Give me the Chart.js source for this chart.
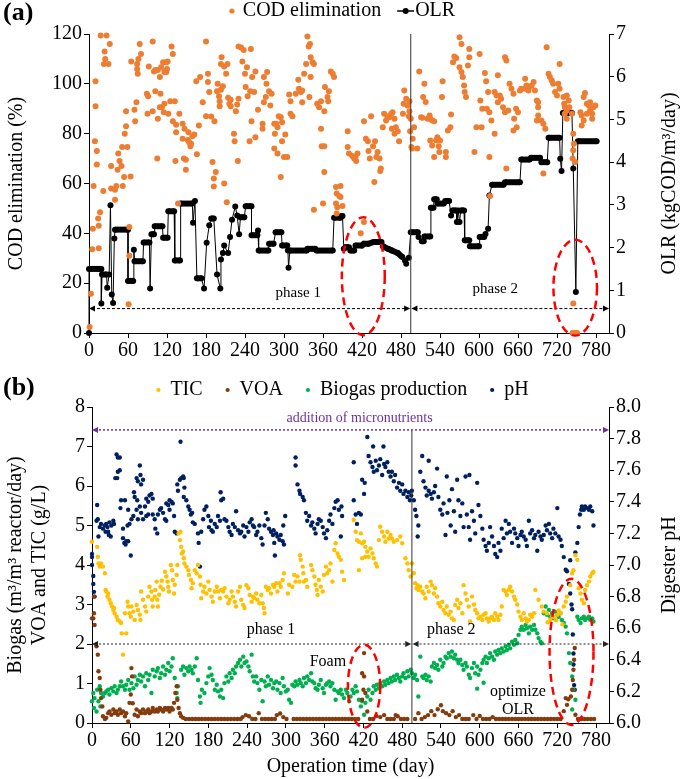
<!DOCTYPE html>
<html><head><meta charset="utf-8">
<script src="https://cdn.jsdelivr.net/npm/chart.js@4.4.1/dist/chart.umd.min.js"></script>
<style>
html,body{margin:0;padding:0;background:#fff;}
#wrap{position:relative;width:685px;height:779px;overflow:hidden;background:#fff;}
#ca{position:absolute;left:0;top:0;width:685px;height:365px;}
#cb{position:absolute;left:0;top:357px;width:685px;height:422px;}
</style></head><body>
<div id="wrap"><canvas id="ca" width="685" height="365"></canvas><canvas id="cb" width="685" height="422"></canvas></div>
<script>
// ---------- tick labels ----------
const xTicks = [0,60,120,180,240,300,360,420,480,540,600,660,720,780];
const codTicks = [0,20,40,60,80,100,120];
const olrTicks = [0,1,2,3,4,5,6,7];
const leftBTicks = [0,1,2,3,4,5,6,7,8];
const phTicks = [6.0,6.2,6.4,6.6,6.8,7.0,7.2,7.4,7.6,7.8,8.0];

// ---------- panel (a): COD elimination (%) [day, %] ----------
const codData = [[1,2.4],[3,15.8],[5,33.6],[6,41.8],[7,59],[9,77],[10,101],[10,91],[12,73],[12,67.6],[15,34],[15,43],[14,46],[17,48.5],[22,57],[18,119.4],[27,119.4],[24,113],[25,110],[23,108],[30,108],[32,116],[34,58],[34,67],[40,57.5],[42,59],[40,53.5],[44,65.5],[47,69],[45,72],[50,67],[51,74.6],[54,62.6],[52,59],[55,80],[57,83],[57,89],[59,74.6],[64,62.8],[62,42.5],[62,31],[61,11.5],[70,89.6],[71,85],[73,92.6],[65,109],[75,104],[74,106],[74,108],[76,110],[78,116],[80,112],[89,96],[91,95],[90,88],[92,107],[98,117],[98,89],[100,105],[102,97],[102,105.6],[105,70],[106,86],[106,105.6],[109,90.6],[109,102.7],[110,96],[111,106.7],[114,108.7],[112,90.6],[115,88.6],[116,104.7],[116,92],[119,108.7],[119,104.7],[120,106],[121,109],[122,88],[127,115],[129,112],[125,93],[129,85],[132,93],[133,69],[134,80.6],[134,83.6],[137,52],[139,88],[144,84],[144,78],[147,82],[146,70],[149,69.5],[149,65.5],[152,77.5],[154,76.6],[156,75],[157,76],[153,80.6],[159,79],[162,79.7],[169,83.3],[166,71.7],[165,101],[171,102.7],[175,92.6],[180,117],[183,104],[185,96.7],[183,100.7],[180,87],[188,86.9],[190,68.6],[193,85],[195,64.6],[192,58.8],[192,62],[197,97],[198,100],[200,95],[201,93],[203,97.6],[206,99],[201,91],[204,110.7],[203,108],[208,107],[211,104],[213,108],[208,60],[212,52.5],[214,94.4],[216,92],[218,93.6],[218,91],[223,80],[224,77],[226,89],[228,91.7],[229,69],[230,94],[230,115],[234,114.6],[236,109],[238,113.6],[240,104],[241,98.7],[243,106.7],[244,95],[247,77],[248,97],
[249,114],[251,102.7],[256,105],[254,96.7],[250,85],[256,78.6],[267,82],[260,89.6],[269,92.6],[267,84],[272,94.7],[269,102.7],[274,104.7],[273,100],[277,97],[281,96],[279,91.3],[285,84],[288,84],[286,80],[290,82.6],[295,86.6],[297,84.6],[292,87],[285,74],[290,72],[300,70.6],[305,70.6],[295,62.6],[297,77],[302,79.7],[308,95.7],[310,93],[310,88],[313,87],[318,96],[323,98],[326,96.7],[328,97.3],[322,101.6],[328,92.6],[331,104],[334,108],[338,115],[336,119],[340,116],[341,110.7],[344,108.7],[346,108],[341,102.7],[339,94.7],[351,92],[354,90.6],[357,93],[362,89],[367,94.7],[369,97],[368,93],[372,105],[375,104],[377,102.7],[363,98.7],[357,82],[358,75],[362,75],[362,64.6],[360,52],[346,49.5],[380,58.6],[387,59],[381,56],[385,55],[387,54.6],[380,52],[382,50.5],[381,48],[390,51],[398,81],[398,74.6],[400,72],[405,71],[408,70],[411,69],[413,72],[410,70.6],[423,85],[434,87],[429,77],[426,78],[430,73],[432,70],[437,75],[440,77],[444,72.6],[442,70.6],[447,70],[449,66],[439,60.6],[448,65],[423,44.5],[418,40],[452,82.6],[457,85.3],[454,88],[459,87],[462,86.6],[465,88],[467,88.6],[470,86],[472,82.6],[475,81],[477,77],[466,82],[470,80],[483,88],[484,92],[485,97.3],[488,94],[490,91.3],[493,89],[494,81],[496,74.6],[492,87],
[493,93],[495,86],[500,82.6],[498,78],[497,74],[505,74],[508,105],[516,100],[514,94.7],[518,92.7],[521,86],[511,86.6],[513,86.4],[524,87.3],[525,86],[528,85.3],[531,85],[525,77.3],[528,75.3],[534,77.3],[536,78.6],[538,75],[540,77.3],[531,70.6],[539,72.6],[544,101],[543,94.7],[549,72.6],[549,70.6],[552,81.3],[556,82.6],[557,87.7],[560,108.7],[562,111],[565,110.4],[570,118.7],[573,116],[570,106.7],[573,104.7],[575,102.7],[577,99.3],[578,96.7],[580,94.7],[583,107.4],[585,110.7],[585,114],[593,72.6],[596,82.6],[601,112],[602,93.3],[604,82.6],[605,90],[609,104.3],[611,101],[614,96.7],[612,90],[616,88.6],[619,85.3],[616,70.6],[617,55],[624,80],[624,96.7],[627,95.3],[629,103.4],[629,92.6],[632,95.3],[634,94],[637,90.6],[640,88.6],[640,110.7],[642,109.4],[645,89.3],[647,100],[650,98],[653,96],[654,86],[657,90],[658,82.6],[642,66],[653,81.3],[660,88.6],[663,97.3],[665,98],[671,98],[671,102],[673,99.3],[676,97.3],[678,98.7],[681,99.3],[684,100.7],[686,97.3],[689,93.3],[691,92.6],[689,85.3],[691,87.3],[696,85.3],[699,84],[702,82],[704,114.7],[707,104],[709,102.7],[712,101.3],[714,100],[717,96.7],[720,95.3],[724,108],[722,100],[724,98],[699,64],[691,90.6],[730,94.7],[732,90.6],[735,89.3],[738,93.3],[732,88],[731,92],[735,95.3],[735,86],[739,90.6],[743,88],[745,80],[746,76],[745,73.3],[744,70],[748,68.6],[745,11.8],[744,0],[748,0],[751,0],[756,88.6],[758,83.3],[761,94.7],[763,96.3],[766,92],[769,91.3],[771,89.3],[774,88],[776,90.6],[779,91.3],[774,86],[766,88],[761,85.3],[771,92.6],[758,87.3]];

// ---------- panel (a): OLR (kgCOD/m3/day) [day, OLR] ----------
const olrData = [[0,0],[0,1.5],[19,1.5],[19,0.69],[20,1.37],[27,1.37],[28,1.06],[31,1.37],[33,2.99],[35,0.90],[37,0.70],[39,2.21],[40,2.42],[60,2.42],[60,1.22],[68,1.22],[69,1.95],[70,1.68],[83,1.68],[84,2.12],[93,2.12],[94,1.04],[96,2.31],[100,2.31],[101,2.50],[113,2.50],[114,2.23],[121,2.23],[122,2.85],[131,2.85],[132,1.70],[140,1.70],[141,3.03],[159,3.03],[160,2.58],[163,3.09],[166,1.28],[173,1.28],[177,1.04],[181,2.11],[185,2.52],[188,2.68],[192,2.68],[197,1.37],[202,1.04],[203,1.72],[206,1.87],[208,2.05],[214,1.87],[217,2.25],[220,2.65],[225,2.96],[228,2.75],[231,2.31],[233,2.71],[239,2.71],[241,2.97],[250,2.97],[250,2.29],[259,2.29],[260,2.40],[261,1.93],[276,1.93],[277,2.09],[284,2.09],[287,2.36],[296,2.36],[297,2.05],[305,2.05],[306,1.93],[307,1.53],[309,1.93],[335,1.93],[336,1.97],[348,1.97],[350,1.93],[375,1.93],[377,2.70],[387,2.70],[388,2.74],[390,2.74],[392,1.97],[395,2.01],[400,2.01],[402,1.93],[408,1.93],[410,2.05],[420,2.05],[423,2.09],[430,2.09],[438,2.13],[450,2.13],[452,2.03],[460,1.97],[466,1.93],[475,1.87],[482,1.78],[486,1.70],[488,1.62],[492,1.76],[495,2.36],[506,2.36],[507,2.25],[512,2.15],[515,2.15],[516,2.26],[525,2.26],[526,2.93],[530,2.93],[531,3.13],[535,3.13],[536,3.03],[546,3.03],[548,3.09],[554,3.09],[557,2.75],[559,2.87],[565,2.87],[566,2.6],[568,2.87],[570,2.6],[572,2.87],[577,2.87],[578,2.17],[585,2.17],[586,2.03],[600,2.03],[601,2.25],[608,2.25],[610,2.32],[614,2.44],[616,3.22],[620,3.47],[638,3.47],[640,3.53],[663,3.53],[665,4.06],[678,4.06],[680,4.10],[694,4.10],[696,4.0],[705,4.0],[707,4.57],[724,4.57],[725,4.08],[727,3.79],[729,5.15],[743,5.15],[745,3.85],[749,0.96],[752,4.49],[781,4.49]];

// ---------- panel (b): TIC (g/L) [day, value] ----------
const ticData = [[0,4.59],[8,4.46],[9,4.21],[10,4.04],[12,3.96],[14,4.04],[17,3.96],[20,3.79],[21,3.37],[22,3.33],[24,3.2],[25,3.28],[27,3.12],[29,3.03],[31,2.95],[33,2.86],[34,2.91],[35,2.78],[38,2.69],[40,2.61],[43,2.57],[45,2.53],[46,2.27],[53,2.27],[48,1.73],[51,2.78],[55,3.07],[56,2.95],[58,2.78],[60,2.69],[61,2.95],[64,2.82],[66,2.61],[69,2.99],[71,2.86],[74,2.74],[75,2.61],[76,3.33],[79,3.12],[82,2.95],[84,2.82],[87,3.2],[89,3.45],[92,3.33],[93,3.12],[94,2.95],[97,3.2],[98,3.37],[100,3.58],[101,3.12],[102,2.95],[104,3.25],[106,3.45],[108,3.6],[110,3.38],[113,3.83],[115,3.71],[117,3.58],[118,3.45],[119,3.33],[122,4.0],[124,3.87],[125,3.62],[127,3.28],[128,3.5],[131,3.75],[132,4.0],[134,4.8],[136,4.63],[137,4.84],[138,4.46],[139,4.29],[141,4.34],[142,4.17],[143,4.04],[146,3.96],[149,3.87],[150,3.75],[153,3.62],[154,3.41],[156,3.54],[159,3.87],[162,3.79],[164,4.0],[167,3.71],[168,3.5],[169,3.16],[172,3.33],[174,3.45],[177,3.28],[180,3.58],[182,3.37],[185,3.2],[187,3.07],[190,3.33],[193,3.45],[195,3.33],[198,3.16],[200,3.37],[203,3.33],[205,3.41],[208,3.2],[211,3.03],[213,3.12],[216,3.33],[218,3.2],[221,3.07],[223,2.95],[226,3.33],[229,3.45],[231,3.12],[234,2.99],[236,2.91],[239,3.49],[242,3.41],[244,3.24],[247,3.07],[249,3.2],
[251,3.16],[254,3.28],[256,3.12],[259,3.03],[262,3.24],[264,3.03],[266,2.91],[267,2.78],[269,3.45],[272,3.37],[274,3.41],[277,3.28],[280,3.5],[282,3.45],[285,3.54],[287,3.33],[290,3.54],[292,3.45],[295,3.62],[297,3.79],[303,3.28],[305,3.5],[310,3.45],[313,3.75],[315,3.58],[318,3.71],[321,3.58],[322,4.25],[323,4.13],[326,3.96],[327,3.79],[328,3.58],[331,3.62],[333,3.45],[339,4.0],[341,3.87],[344,3.71],[346,3.5],[348,3.37],[349,3.24],[351,3.62],[354,3.45],[357,3.33],[359,3.75],[362,3.96],[364,3.79],[367,3.87],[369,4.04],[372,3.58],[375,4.38],[377,4.55],[380,4.29],[382,4.21],[385,4.13],[387,3.83],[390,3.62],[405,5.14],[408,4.84],[410,4.63],[413,4.59],[416,4.8],[418,4.55],[421,4.59],[423,4.46],[426,4.34],[428,4.21],[431,4.42],[434,4.29],[436,4.17],[439,4.04],[441,3.96],[413,3.87],[418,4.17],[423,4.21],[444,4.63],[446,4.97],[449,4.84],[452,4.72],[454,4.59],[457,4.84],[459,4.67],[462,4.76],[464,4.67],[467,4.59],[472,4.63],[477,4.72],[480,4.55],[485,4.17],[488,4.04],[490,3.87],[493,3.71],
[495,4.04],[498,3.79],[500,3.54],[502,3.41],[504,3.49],[505,3.37],[508,3.45],[511,3.33],[513,3.28],[516,3.16],[518,3.45],[521,3.33],[524,3.58],[526,3.49],[529,3.28],[531,3.41],[534,3.2],[536,3.03],[539,2.95],[542,3.07],[544,2.86],[547,2.78],[549,2.95],[552,2.74],[555,2.82],[557,2.65],[560,2.61],[562,2.99],[565,3.12],[567,2.91],[570,3.03],[573,2.78],[575,3.49],[578,3.28],[580,3.12],[583,2.95],[585,2.57],[588,3.2],[591,3.0],[593,2.86],[596,2.78],[598,2.65],[601,2.69],[604,2.61],[606,2.74],[609,2.78],[611,2.65],[614,2.57],[616,2.65],[619,2.69],[622,2.61],[624,2.78],[627,2.69],[629,2.61],[632,2.74],[634,2.95],[637,3.37],[640,3.33],[642,3.24],[645,3.37],[647,3.45],[650,3.33],[653,3.2],[655,3.12],[658,3.0],[660,2.82],[663,2.69],[665,2.61],[668,2.78],[671,2.65],[673,2.57],[676,2.61],[678,2.74],[681,2.69],[684,2.78],[686,3.37],[691,3.12],[696,2.95],[699,2.82],[704,2.78],[705,2.55],[709,2.61],[712,2.7],[714,2.69],[718,2.6],[720,2.74],[722,2.85],[725,2.78],[728,2.5],[730,2.95],[733,3.07],[735,3.2],[740,3.49],[743,3.79],[745,3.87],[748,4.25],[751,4.13],[753,3.41],[756,3.28],[758,3.12],[761,3.03],[763,3.37],[766,3.49],[769,3.58],[771,3.71],[774,3.79],[776,3.83]];

// ---------- panel (b): VOA (g/L) [day, value] ----------
const voaData = [[0,2.65],[2,2.65],[3,3.2],[3,2.78],[4,2.48],[7,1.94],[9,1.73],[10,1.31],[12,1.14],[13,0.84],[14,0.63],[16,0.42],[17,0.17],[20,0.1],[22,0.13],[25,0.25],[27,0.29],[30,0.21],[33,0.34],[35,0.25],[38,0.29],[40,0.21],[43,0.34],[45,0.25],[48,0.29],[51,0.17],[53,0.25],[56,0.04],[58,0.51],[60,0.72],[61,1.39],[62,1.18],[63,0.5],[66,0.21],[69,0.34],[71,0.17],[74,0.29],[76,0.25],[79,0.34],[82,0.25],[84,0.29],[87,0.34],[89,0.25],[92,0.29],[94,0.38],[97,0.29],[100,0.34],[102,0.29],[105,0.38],[107,0.34],[110,0.29],[113,0.38],[115,0.34],[118,0.38],[120,0.29],[123,0.38],[125,0.34],[127,0.51],[129,0.76],[131,0.93],[132,0.59],[134,0.38],[136,0.25],[138,0.17],[141,0.13],
[145,0.1],[150,0.1],[155,0.1],[160,0.1],[165,0.1],[170,0.1],[175,0.1],[180,0.1],[185,0.1],[190,0.1],[195,0.1],[200,0.1],[205,0.1],[210,0.1],[215,0.1],[220,0.1],[225,0.1],[230,0.1],[233,0.15],[238,0.2],[243,0.17],[248,0.1],[253,0.1],[258,0.25],[263,0.1],[268,0.1],[273,0.1],[278,0.1],[283,0.1],[286,0.2],[291,0.24],[296,0.15],[301,0.1],[312,0.1],[317,0.1],[322,0.1],[327,0.1],[332,0.1],[337,0.1],[342,0.1],[347,0.1],[352,0.1],[357,0.1],[362,0.1],[367,0.1],[372,0.1],[377,0.1],[382,0.1],[387,0.1],[392,0.1],[397,0.1],[402,0.1],[407,0.1],[412,0.1],[418,1.26],[421,1.77],[421,1.18],[420,0.84],[423,0.76],[418,0.59],[426,0.29],[430,0.1],[435,0.1],[440,0.18],[446,0.15],[452,0.2],[457,0.1],[462,0.1],[467,0.1],[470,0.2],[473,0.17],[478,0.1],[483,0.1],[488,0.1],
[500,0.1],[505,0.25],[510,0.1],[515,0.15],[520,0.2],[525,0.3],[530,0.2],[535,0.35],[540,0.45],[543,0.3],[548,0.25],[553,0.2],[558,0.3],[563,0.15],[568,0.2],[573,0.1],[578,0.1],[583,0.1],[590,0.2],[595,0.1],[600,0.18],[605,0.1],[610,0.1],[615,0.1],[620,0.15],[625,0.1],[630,0.1],[635,0.1],[640,0.1],[645,0.1],[650,0.1],[655,0.1],[660,0.1],[665,0.1],[670,0.1],[675,0.1],[680,0.1],[685,0.1],[690,0.1],[695,0.1],[700,0.1],[705,0.1],[710,0.1],[715,0.1],[720,0.1],[725,0.1],[730,0.3],[733,0.63],[735,0.46],[737,0.6],[741,0.67],[743,0.84],[744,1.09],[745,1.35],[746,1.6],[747,1.9],[748,0.21],[752,0.1],[757,0.1],[762,0.1],[767,0.1],[772,0.1],[777,0.1]];

// ---------- panel (b): Biogas production (m3/m3 reactor/day) [day, value] ----------
const biogasData = [[0,0.55],[2,0.76],[3,0.38],[4,0.63],[7,0.29],[8,0.84],[10,0.55],[12,0.93],[13,0.42],[14,0.76],[17,0.67],[20,0.76],[22,0.8],[25,0.84],[27,0.72],[30,0.88],[33,0.8],[35,0.93],[38,0.76],[40,0.84],[43,0.93],[45,1.05],[48,0.93],[51,0.84],[53,0.97],[56,1.09],[58,0.84],[61,1.01],[64,0.88],[66,1.18],[69,0.97],[71,1.09],[74,1.22],[76,1.05],[79,1.18],[82,0.93],[84,1.26],[87,1.09],[89,1.22],[92,0.76],[94,1.35],[97,1.18],[100,1.31],[102,1.39],[105,1.14],[107,1.26],[110,1.43],[113,1.22],[115,1.35],[118,1.52],[120,1.31],[123,1.43],[125,1.64],[128,1.14],[131,0.76],[132,0.63],[133,0.93],[138,1.35],[141,1.43],[143,1.22],[146,1.39],[149,1.31],[151,1.43],[154,1.35],[156,1.26],[159,1.43],[162,1.64],[164,1.09],[167,0.67],[168,0.51],[170,0.84],[174,0.76],[177,1.01],[180,1.18],[182,1.39],[185,1.22],[187,1.09],[190,0.84],[193,0.97],[195,0.8],[198,0.67],[200,0.84],[203,0.63],[205,1.01],[208,1.18],[211,1.05],[213,1.26],[216,1.14],[218,1.35],[221,1.26],[223,1.43],[226,1.52],[229,1.6],[231,1.43],[234,1.68],[236,1.52],[239,1.56],[242,1.43],[244,1.31],[247,1.73],[249,1.18],
[251,1.05],[254,1.18],[256,1.01],[259,0.84],[262,1.09],[264,0.55],[267,1.05],[269,0.93],[272,1.18],[274,0.97],[277,1.09],[280,0.88],[282,1.01],[285,1.05],[287,0.84],[290,1.01],[292,0.76],[295,1.14],[297,0.93],[300,0.8],[303,0.84],[305,0.59],[308,0.51],[310,0.97],[313,0.93],[315,1.05],[318,0.97],[321,1.09],[323,1.01],[326,0.93],[328,1.14],[331,1.01],[333,1.18],[336,1.09],[339,1.26],[341,1.05],[344,1.01],[346,0.88],[349,0.84],[351,0.97],[354,1.09],[357,0.88],[359,0.76],[362,0.97],[364,1.01],[367,1.05],[369,0.93],[372,1.01],[375,0.84],[377,0.59],[380,0.8],[382,0.76],[385,0.84],[387,0.72],[390,0.63],[393,0.84],[395,0.76],[398,0.55],[400,0.67],[403,0.84],[405,0.76],[408,0.93],[410,0.8],[413,0.59],[416,0.42],[418,0.55],[421,0.21],[423,0.51],[426,0.67],[428,0.84],[431,0.59],[434,0.76],[436,0.93],[439,0.84],[441,0.97],[444,0.88],[446,1.01],[449,0.93],[452,1.05],[454,0.97],[457,1.09],[459,1.01],[462,1.14],[464,1.05],[467,1.18],[469,1.09],[472,1.22],[475,1.14],[477,1.05],[480,1.18],[482,1.26],[485,1.14],[488,1.31],[490,1.18],[493,1.35],
[495,1.26],[498,1.14],[500,1.22],[503,1.09],[505,0.67],[508,1.68],[511,1.18],[513,1.14],[516,1.22],[518,1.09],[521,1.18],[524,1.05],[526,1.43],[529,1.52],[531,1.39],[534,1.47],[536,1.35],[539,1.6],[542,1.43],[544,1.52],[547,1.68],[549,1.64],[552,1.77],[555,1.68],[557,1.81],[560,1.64],[562,1.73],[565,1.6],[567,1.52],[570,1.6],[573,1.47],[575,1.35],[578,1.52],[580,1.43],[583,1.22],[585,1.14],[588,1.39],[591,1.52],[593,1.26],[596,0.87],[596,1.43],[598,1.22],[601,1.35],[604,1.52],[606,1.02],[606,1.6],[609,1.68],[611,1.52],[614,1.64],[616,1.77],[619,1.68],[622,1.6],[624,1.81],[627,1.73],[629,1.85],[632,1.77],[634,1.89],[637,1.81],[640,1.94],[642,1.85],[645,1.98],[647,1.89],[650,2.06],[653,1.98],[655,2.1],[658,2.02],[660,2.23],[663,2.36],[665,2.44],[668,2.36],[671,2.48],[673,2.4],[676,2.27],[678,2.44],[681,2.36],[684,2.48],[686,2.36],[689,2.27],[691,2.15],[694,2.06],[696,2.02],[699,2.78],[702,2.95],[704,2.74],[707,2.86],[709,2.69],[712,2.78],[714,2.65],[717,2.82],[720,2.74],[722,2.69],[725,2.78],[727,2.61],[730,2.53],[733,2.44],[735,2.27],[738,1.77],[740,1.52],[743,1.18],[745,0.84],[743,0.34],[748,0.59],[751,2.69],[753,2.61],[756,2.53],[758,2.65],[761,2.69],[763,2.61],[766,2.65],[769,2.69],[771,2.61],[774,2.65],[776,2.57]];

// ---------- panel (b): digester pH [day, pH] ----------
const phData = [[0,7.07],[0,7.05],[0,7.0],[2,6.93],[2,6.88],[3,6.83],[4,6.8],[8,7.38],[7,7.28],[9,7.29],[10,7.18],[12,7.24],[14,7.26],[17,7.23],[20,7.25],[21,7.21],[22,7.26],[24,7.24],[25,7.21],[26,7.19],[27,7.27],[29,7.18],[30,7.25],[33,7.28],[34,7.26],[36,7.55],[39,7.55],[38,7.7],[40,7.68],[43,7.68],[40,7.59],[43,7.6],[44,7.36],[45,7.41],[48,7.23],[48,7.17],[50,7.14],[52,7.13],[53,7.15],[56,7.15],[60,7.06],[51,7.41],[55,7.25],[56,7.35],[58,7.26],[61,7.29],[64,7.31],[65,7.46],[66,7.43],[69,7.55],[71,7.53],[74,7.63],[75,7.57],[76,7.51],[79,7.54],[69,7.35],[70,7.41],[71,7.29],[74,7.37],[76,7.33],[79,7.29],[82,7.37],[84,7.42],[87,7.4],[89,7.44],[92,7.45],[84,7.31],[87,7.32],[94,7.42],[94,7.32],[97,7.29],[98,7.23],[101,7.2],[102,7.32],[105,7.35],[107,7.36],[110,7.33],[113,7.29],[115,7.39],[118,7.38],[120,7.41],[123,7.4],[125,7.39],[115,7.28],[120,7.35],[127,7.31],[128,7.21],[131,7.2],[132,7.51],[133,7.47],[136,7.54],[137,7.78],[138,7.55],[141,7.56],[142,7.55],[143,7.49],[142,7.43],[146,7.41],[149,7.37],[151,7.35],[153,7.32],[155,7.33],[156,7.27],[159,7.26],[164,7.2],[165,7.14],[167,6.99],[169,7.21],[172,7.29],[174,7.35],[177,7.37],[180,7.31],[181,7.24],[184,7.28],[185,7.22],[187,7.21],[190,7.26],[193,7.24],[195,7.31],[198,7.28],[199,7.46],[200,7.41],[203,7.42],[205,7.29],[208,7.28],[211,7.24],[213,7.21],[216,7.19],[218,7.26],[221,7.24],[223,7.34],[226,7.22],[229,7.2],[231,7.21],[234,7.25],[236,7.18],[239,7.24],[242,7.21],[244,7.27],[247,7.29],[249,7.25],
[251,7.24],[254,7.19],[256,7.21],[259,7.25],[262,7.17],[264,7.13],[267,7.25],[269,7.33],[272,7.29],[274,7.23],[277,7.21],[280,7.19],[281,7.22],[282,7.14],[283,7.06],[285,7.2],[287,7.18],[290,7.16],[292,7.19],[295,7.15],[297,7.13],[299,7.31],[296,7.25],[315,7.68],[315,7.63],[318,7.51],[321,7.47],[322,7.45],[326,7.43],[328,7.41],[331,7.33],[333,7.28],[336,7.31],[339,7.25],[341,7.27],[344,7.23],[346,7.2],[349,7.26],[351,7.29],[354,7.28],[357,7.24],[359,7.2],[362,7.17],[364,7.22],[367,7.28],[369,7.32],[372,7.26],[375,7.36],[377,7.4],[380,7.41],[382,7.35],[385,7.18],[386,7.37],[387,7.31],[405,7.65],[405,7.41],[408,7.32],[410,7.26],[413,7.33],[416,7.32],[418,7.54],[421,7.45],[422,7.52],[426,7.81],[428,7.69],[431,7.65],[434,7.62],[435,7.75],[436,7.59],[439,7.66],[441,7.6],[444,7.63],[446,7.67],[451,7.75],[449,7.57],[452,7.64],[454,7.62],[457,7.65],[459,7.59],[462,7.56],[464,7.59],[467,7.53],[469,7.57],[472,7.49],[475,7.52],[477,7.47],[480,7.51],[482,7.45],[485,7.47],[488,7.43],[490,7.46],[492,7.41],[494,7.44],
[495,7.47],[498,7.41],[500,7.35],[502,7.31],[504,7.18],[505,7.25],[508,7.59],[511,7.69],[513,7.53],[516,7.49],[518,7.44],[521,7.66],[521,7.47],[524,7.45],[526,7.42],[529,7.46],[531,7.5],[534,7.61],[536,7.43],[539,7.35],[542,7.32],[544,7.39],[547,7.19],[549,7.56],[550,7.33],[553,7.41],[555,7.25],[557,7.48],[560,7.34],[562,7.21],[565,7.54],[567,7.41],[570,7.31],[573,7.39],[575,7.24],[578,7.56],[580,7.32],[583,7.24],[584,7.57],[585,7.16],[588,7.34],[591,7.28],[593,7.2],[596,7.52],[598,7.38],[601,7.31],[604,7.23],[606,7.16],[609,7.12],[611,7.09],[614,7.14],[616,7.24],[619,7.18],[622,7.12],[624,7.07],[627,7.05],[629,7.14],[632,7.09],[634,7.23],[637,7.17],[640,7.28],[642,7.2],[645,7.26],[647,7.21],[650,7.14],[653,7.23],[655,7.2],[658,7.17],[660,7.12],[663,7.19],[665,7.21],[668,7.18],[671,7.16],[673,7.12],[676,7.28],[678,7.2],[681,7.22],[684,7.17],[686,7.19],[689,7.09],[691,7.21],[694,7.18],[696,7.16],[699,7.19],[702,7.25],[704,7.22],[707,7.26],[709,7.2],[712,7.17],[714,7.23],[717,7.2],[720,7.36],[722,7.18],[725,7.16],[727,7.12],[730,7.05],[733,6.97],[735,6.96],[738,6.88],[740,6.82],[742,6.75],[743,6.72],[744,6.56],[745,6.44],[745,6.37],[746,6.24],[747,6.21],[740,7.03],[748,7.08],[751,7.14],[753,7.24],[755,7.32],[757,7.35],[758,7.37],[761,7.35],[763,7.37],[766,7.36],[769,7.35],[771,7.37],[774,7.34],[776,7.25]];

// ---------- styling ----------
const FONT = "'Liberation Serif','Times New Roman',Times,serif";
const ORANGE = '#ED7D31', TICC = '#FFC000', VOAC = '#843C0C', BIOC = '#00B050', PHC = '#002060';
Chart.defaults.font.family = FONT;
Chart.defaults.font.size = 20;
Chart.defaults.color = '#000';
const toXY = a => a.map(p => ({x: p[0], y: p[1]}));

function mkScale(pos, min, max, tickVals, fitSize, fmt, title) {
  const s = {
    type: 'linear', position: pos, min, max,
    afterBuildTicks: sc => { sc.ticks = tickVals.map(v => ({value: v})); },
    afterFit: sc => { if (pos === 'bottom') sc.height = fitSize; else sc.width = fitSize; },
    ticks: { color: '#000', font: {family: FONT, size: 20}, padding: pos === 'bottom' ? 1 : 2,
             autoSkip: false, maxRotation: 0, callback: fmt || (v => String(v)) },
    grid: { display: true, drawOnChartArea: false, drawTicks: true, tickLength: 5, color: '#000', tickColor: '#000' },
    border: { display: true, color: '#000', width: 1 }
  };
  if (title) s.title = title;
  return s;
}
function fixLegend(H) {
  return { id: 'fixLegend', beforeLayout(chart) {
    const lg = chart.legend;
    if (lg && !lg.__fixed) { const f = lg.fit; lg.fit = function () { f.call(this); this.height = H; }; lg.__fixed = true; }
  }};
}
function dline(ctx, x0, y0, x1, y1, color, w, dash) {
  ctx.save(); ctx.strokeStyle = color; ctx.lineWidth = w; ctx.setLineDash(dash || []);
  ctx.beginPath(); ctx.moveTo(x0, y0); ctx.lineTo(x1, y1); ctx.stroke(); ctx.restore();
}
function head(ctx, x, y, dir, color) {
  ctx.save(); ctx.fillStyle = color; ctx.beginPath();
  ctx.moveTo(x, y); ctx.lineTo(x - dir * 6, y - 3); ctx.lineTo(x - dir * 6, y + 3); ctx.closePath(); ctx.fill(); ctx.restore();
}
function arrow(ctx, xa, xb, y, color, w, dash) {
  dline(ctx, xa + 3, y, xb - 3, y, color, w, dash);
  head(ctx, xa, y, -1, color); head(ctx, xb, y, 1, color);
}
function ell(ctx, cx, cy, rx, ry) {
  ctx.save(); ctx.strokeStyle = '#FF0000'; ctx.lineWidth = 2.5; ctx.setLineDash([8, 5]);
  ctx.beginPath(); ctx.ellipse(cx, cy, rx, ry, 0, 0, Math.PI * 2); ctx.stroke(); ctx.restore();
}
function txt(ctx, s, x, y, size, color, opts) {
  ctx.save(); ctx.fillStyle = color || '#000';
  ctx.font = (opts && opts.bold ? 'bold ' : '') + size + 'px ' + FONT;
  ctx.textAlign = (opts && opts.align) || 'center'; ctx.textBaseline = 'middle';
  if (opts && opts.rot) { ctx.translate(x, y); ctx.rotate(opts.rot); ctx.fillText(s, 0, 0); }
  else ctx.fillText(s, x, y);
  ctx.restore();
}
function imgMarker(w, h, draw) {
  const c = document.createElement('canvas'); c.width = w; c.height = h;
  draw(c.getContext('2d')); return c;
}
const codMarker = imgMarker(31, 10, g => { g.fillStyle = ORANGE; g.beginPath(); g.arc(26, 5, 2.6, 0, Math.PI * 2); g.fill(); });
const olrMarker = imgMarker(41, 10, g => {
  g.strokeStyle = '#000'; g.lineWidth = 1.5; g.beginPath(); g.moveTo(24, 5); g.lineTo(41, 5); g.stroke();
  g.fillStyle = '#000'; g.beginPath(); g.arc(32.5, 5, 3, 0, Math.PI * 2); g.fill();
});

const noInteract = { events: [], animation: false, responsive: false, devicePixelRatio: 1 };

// ---------- chart (a) ----------
const annA = { id: 'annA',
  afterDatasetsDraw(chart) {
    const {ctx, scales: {x, y}} = chart;
    const X = v => x.getPixelForValue(v), Y = v => y.getPixelForValue(v);
    dline(ctx, X(495), Y(120), X(495), Y(0), '#333', 1);
    arrow(ctx, X(0), X(494), Y(9.8), '#000', 1, [3, 2]);
    arrow(ctx, X(496), X(800), Y(9.8), '#000', 1, [3, 2]);
    txt(ctx, 'phase 1', X(322), Y(16), 15);
    txt(ctx, 'phase 2', X(625), Y(17.8), 15);
    ell(ctx, X(422), Y(22.8), X(422) - X(389), Y(0) - Y(23.7));
    ell(ctx, X(748), Y(18.2), X(748) - X(714.5), Y(0) - Y(19.2));
  },
  afterDraw(chart) {
    const ctx = chart.ctx, a = chart.chartArea;
    txt(ctx, '(a)', 3, 13, 26, '#000', {bold: true, align: 'left'});
    txt(ctx, 'OLR (kgCOD/m³/day)', 670, (a.top + a.bottom) / 2, 20, '#000', {rot: -Math.PI / 2});
  }
};
new Chart(document.getElementById('ca'), {
  type: 'scatter',
  data: { datasets: [
    { label: 'COD elimination', data: toXY(codData), yAxisID: 'y', pointRadius: 3, pointHoverRadius: 3,
      backgroundColor: ORANGE, borderColor: ORANGE, pointBorderWidth: 0, showLine: false, clip: false, order: 1 },
    { type: 'line', label: 'OLR', data: toXY(olrData), yAxisID: 'y1', borderColor: '#000', backgroundColor: '#000',
      borderWidth: 1, pointRadius: 3, pointHoverRadius: 3, pointBorderWidth: 0, tension: 0, fill: false, clip: false, order: 2,
      segment: { borderWidth: c => {
        const dx = c.p1.parsed.x - c.p0.parsed.x, dy = Math.abs(c.p1.parsed.y - c.p0.parsed.y);
        return (dx >= 2 && dy / dx < 0.02) ? 6 : 1; } } }
  ]},
  options: Object.assign({}, noInteract, {
    layout: { padding: { top: 0, left: 0, right: 20, bottom: 0 } },
    scales: {
      x: mkScale('bottom', 0, 800, xTicks, 32),
      y: mkScale('left', 0, 120, codTicks, 89, null,
        { display: true, text: 'COD elimination (%)', font: {family: FONT, size: 20}, color: '#000', padding: {top: 5, bottom: 0} }),
      y1: mkScale('right', 0, 7, olrTicks, 56)
    },
    plugins: {
      tooltip: { enabled: false },
      legend: { display: true, position: 'top', align: 'center',
        labels: { usePointStyle: true, pointStyleWidth: 23, boxHeight: 10, padding: 1, color: '#000',
          font: {family: FONT, size: 20},
          generateLabels: () => [
            { text: 'COD elimination', pointStyle: codMarker, fillStyle: ORANGE, strokeStyle: ORANGE, lineWidth: 0, hidden: false, datasetIndex: 0, fontColor: '#000' },
            { text: 'OLR', pointStyle: olrMarker, fillStyle: '#000', strokeStyle: '#000', lineWidth: 0, hidden: false, datasetIndex: 1, fontColor: '#000' }
          ] } }
    }
  }),
  plugins: [fixLegend(34), annA]
});

// ---------- chart (b) ----------
const annB = { id: 'annB',
  afterDatasetsDraw(chart) {
    const {ctx, scales: {x, y}} = chart;
    const X = v => x.getPixelForValue(v), Y = v => y.getPixelForValue(v);
    dline(ctx, X(495), Y(7.42), X(495), Y(0), '#333', 1);
    arrow(ctx, X(0), X(800), Y(7.42), '#7030A0', 1.5, [2, 2]);
    txt(ctx, 'addition of micronutrients', X(414), Y(7.71), 14, '#7030A0');
    arrow(ctx, X(0), X(494), Y(2.0), '#222', 1, [2, 2]);
    arrow(ctx, X(496), X(800), Y(2.0), '#222', 1, [2, 2]);
    txt(ctx, 'phase 1', X(277), Y(2.35), 16);
    txt(ctx, 'phase 2', X(556), Y(2.36), 16);
    txt(ctx, 'Foam', X(365), Y(1.55), 16);
    txt(ctx, 'optimize', X(659), Y(0.79), 16);
    txt(ctx, 'OLR', X(659), Y(0.33), 16);
    ell(ctx, X(421), Y(0.93), X(421) - X(396), Y(0) - Y(1.05));
    ell(ctx, X(742), Y(1.8), X(742) - X(708), Y(0) - Y(1.85));
  },
  afterDraw(chart) {
    const ctx = chart.ctx, a = chart.chartArea;
    txt(ctx, '(b)', 3, 31, 26, '#000', {bold: true, align: 'left'});
    txt(ctx, 'Digester pH', 670, (a.top + a.bottom) / 2, 20, '#000', {rot: -Math.PI / 2});
  }
};
const dotLabel = (text, color, i) => ({ text, pointStyle: 'circle', fillStyle: color, strokeStyle: color, lineWidth: 0, hidden: false, datasetIndex: i, fontColor: '#000' });
new Chart(document.getElementById('cb'), {
  type: 'scatter',
  data: { datasets: [
    { label: 'TIC', data: toXY(ticData), yAxisID: 'y', pointRadius: 2.2, pointHoverRadius: 2.2, backgroundColor: TICC, borderColor: TICC, pointBorderWidth: 0, clip: false, order: 1 },
    { label: 'VOA', data: toXY(voaData), yAxisID: 'y', pointRadius: 2.2, pointHoverRadius: 2.2, backgroundColor: VOAC, borderColor: VOAC, pointBorderWidth: 0, clip: false, order: 2 },
    { label: 'Biogas production', data: toXY(biogasData), yAxisID: 'y', pointRadius: 2.2, pointHoverRadius: 2.2, backgroundColor: BIOC, borderColor: BIOC, pointBorderWidth: 0, clip: false, order: 3 },
    { label: 'pH', data: toXY(phData), yAxisID: 'y1', pointRadius: 2.2, pointHoverRadius: 2.2, backgroundColor: PHC, borderColor: PHC, pointBorderWidth: 0, clip: false, order: 4 }
  ]},
  options: Object.assign({}, noInteract, {
    layout: { padding: { top: 0, left: 0, right: 0, bottom: 0 } },
    scales: {
      x: mkScale('bottom', 0, 800, xTicks, 56, null,
        { display: true, text: 'Operation time (day)', font: {family: FONT, size: 20}, color: '#000', padding: {top: 0, bottom: 0} }),
      y: mkScale('left', 0, 8, leftBTicks, 92, null,
        { display: true, text: ['Biogas (m³/m³ reactor/day)', 'VOA and TIC (g/L)'], font: {family: FONT, size: 20}, color: '#000', padding: {top: 4, bottom: 0} }),
      y1: mkScale('right', 6, 8, phTicks, 76, v => Number(v).toFixed(1))
    },
    plugins: {
      tooltip: { enabled: false },
      legend: { display: true, position: 'top', align: 'center',
        labels: { usePointStyle: true, boxWidth: 4, boxHeight: 3, padding: 23, color: '#000',
          font: {family: FONT, size: 20},
          generateLabels: () => [dotLabel('TIC', TICC, 0), dotLabel('VOA', VOAC, 1), dotLabel('Biogas production', BIOC, 2), dotLabel('pH', PHC, 3)] } }
    }
  }),
  plugins: [fixLegend(50), annB]
});
</script></body></html>
